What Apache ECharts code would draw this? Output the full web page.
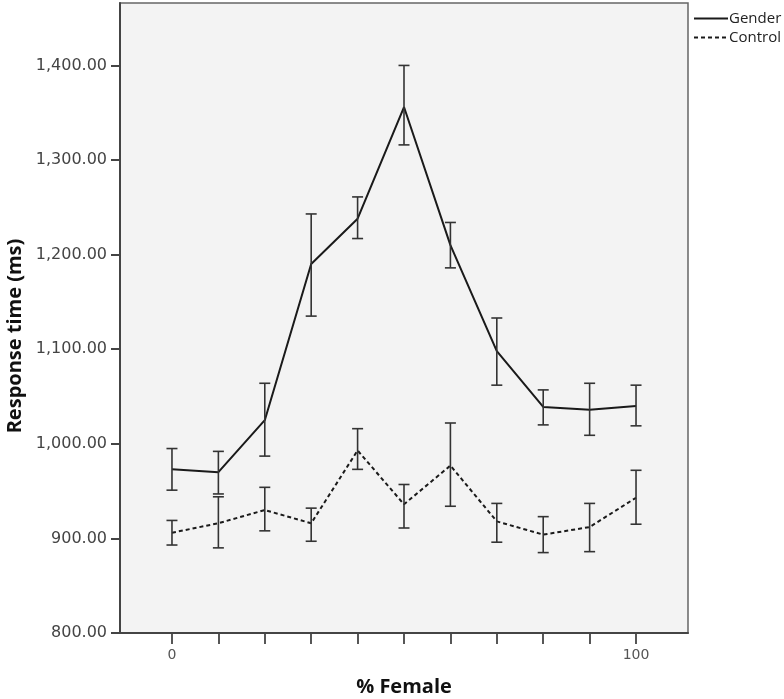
<!DOCTYPE html>
<html>
<head>
<meta charset="utf-8">
<script src="https://cdn.jsdelivr.net/npm/echarts@6/dist/echarts.min.js"></script>
<style>
  html, body { margin: 0; padding: 0; background: #fff; }
  #main { width: 784px; height: 699px; }
</style>
</head>
<body>
<div id="main"></div>
<script>
// % female in the face set
const pctFemale = [0, 10, 20, 30, 40, 50, 60, 70, 80, 90, 100]

// Gender condition: mean and error bar bounds (ms)
const genderMean = [973, 970, 1025, 1190, 1238, 1356, 1210, 1098, 1039, 1036, 1040]
const genderLow  = [951, 947, 987, 1135, 1217, 1316, 1186, 1062, 1020, 1009, 1019]
const genderHigh = [995, 992, 1064, 1243, 1261, 1400, 1234, 1133, 1057, 1064, 1062]

// Control condition
const controlMean = [906, 916, 930, 916, 993, 936, 977, 918, 904, 912, 943]
const controlLow  = [893, 890, 908, 897, 973, 911, 934, 896, 885, 886, 915]
const controlHigh = [919, 944, 954, 932, 1016, 957, 1022, 937, 923, 937, 972]

const yTicks = [800, 900, 1000, 1100, 1200, 1300, 1400]
const xTicks = [0, 10, 20, 30, 40, 50, 60, 70, 80, 90, 100]
const xLabels = [0, 100]

const lineColor = '#1a1a1a'

const zip = (a, b) => a.map((v, i) => [v, b[i]])
const errData = (low, high) => pctFemale.map((x, i) => [x, low[i], high[i]])

// vertical bar with two caps
const renderErr = (params, api) => {
  const top = api.coord([api.value(0), api.value(2)])
  const bot = api.coord([api.value(0), api.value(1)])
  const half = 5.5
  const style = { stroke: '#333', lineWidth: 1.6 }
  return {
    type: 'group',
    children: [
      { type: 'line', shape: { x1: top[0], y1: top[1], x2: bot[0], y2: bot[1] }, style },
      { type: 'line', shape: { x1: top[0] - half, y1: top[1], x2: top[0] + half, y2: top[1] }, style },
      { type: 'line', shape: { x1: bot[0] - half, y1: bot[1], x2: bot[0] + half, y2: bot[1] }, style }
    ]
  }
}

const myChart = echarts.init(document.getElementById('main'))
const option = {
  animation: false,
  backgroundColor: '#fff',
  grid: {
    left: 120,
    top: 3,
    right: 96,
    bottom: 66,
    outerBoundsMode: 'none',
    show: true,
    backgroundColor: '#f3f3f3',
    borderColor: '#666',
    borderWidth: 1.5
  },
  legend: {
    orient: 'vertical',
    left: 688,
    top: 6,
    itemWidth: 34,
    itemHeight: 10,
    itemGap: 4,
    itemStyle: { opacity: 0 },
    textStyle: { fontFamily: 'Open Sans', fontSize: 15, color: '#222', padding: [0, 0, 0, -4] },
    data: ['Gender', 'Control']
  },
  xAxis: {
    type: 'value',
    min: -11.2,
    max: 111.2,
    name: '% Female',
    nameLocation: 'middle',
    nameGap: 44,
    nameTextStyle: { fontFamily: 'Open Sans', fontWeight: 'bold', fontSize: 20, color: '#111' },
    splitLine: { show: false },
    axisLine: { onZero: false, lineStyle: { color: '#444', width: 2 } },
    axisTick: { show: true, length: 11, customValues: xTicks, lineStyle: { color: '#444', width: 1.8 } },
    axisLabel: { customValues: xLabels, margin: 15, fontFamily: 'DejaVu Sans', fontSize: 14, color: '#555' }
  },
  yAxis: {
    type: 'value',
    min: 800,
    max: 1466,
    name: 'Response time (ms)',
    nameLocation: 'middle',
    nameGap: 95,
    nameTextStyle: { fontFamily: 'Open Sans', fontWeight: 'bold', fontSize: 20, color: '#111', padding: [0, 36, 0, 0] },
    splitLine: { show: false },
    axisLine: { show: true, onZero: false, lineStyle: { color: '#444', width: 2 } },
    axisTick: { show: true, length: 9, customValues: yTicks, lineStyle: { color: '#444', width: 2 } },
    axisLabel: {
      customValues: yTicks,
      margin: 13,
      fontFamily: 'DejaVu Sans',
      fontSize: 16,
      color: '#444',
      formatter: v => v.toLocaleString('en-US', { minimumFractionDigits: 2, maximumFractionDigits: 2 })
    }
  },
  series: [
    {
      name: 'Gender',
      type: 'line',
      data: zip(pctFemale, genderMean),
      symbol: 'none',
      itemStyle: { color: lineColor },
      lineStyle: { color: lineColor, width: 2 },
      z: 3
    },
    {
      name: 'Control',
      type: 'line',
      data: zip(pctFemale, controlMean),
      symbol: 'none',
      itemStyle: { color: lineColor },
      lineStyle: { color: lineColor, width: 2, type: [4, 3] },
      z: 3
    },
    {
      type: 'custom',
      renderItem: renderErr,
      data: errData(genderLow, genderHigh),
      encode: { x: 0, y: [1, 2] },
      z: 4
    },
    {
      type: 'custom',
      renderItem: renderErr,
      data: errData(controlLow, controlHigh),
      encode: { x: 0, y: [1, 2] },
      z: 4
    }
  ]
}
myChart.setOption(option)
</script>
</body>
</html>
